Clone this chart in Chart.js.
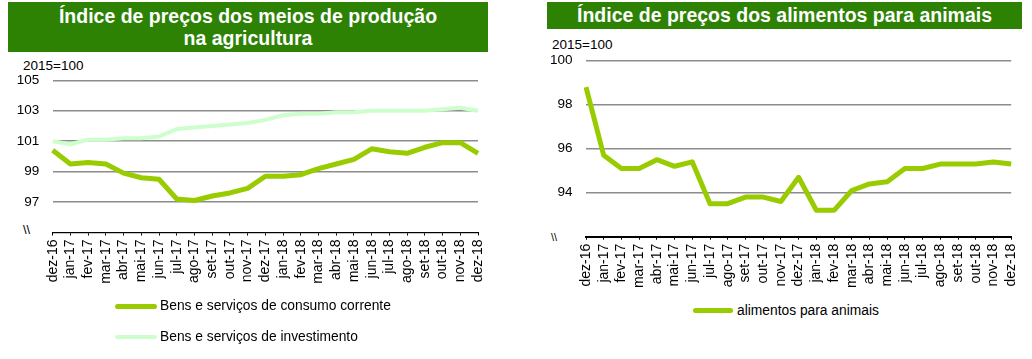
<!DOCTYPE html>
<html><head><meta charset="utf-8">
<script src="https://cdn.jsdelivr.net/npm/chart.js@4/dist/chart.umd.min.js"></script>
<style>
body{margin:0;width:1032px;height:359px;background:#fff;position:relative;overflow:hidden;font-family:"Liberation Sans",Arial,sans-serif;color:#000;}
.banner{position:absolute;background:#2d8204;color:#fff;font-weight:bold;font-size:19.5px;text-align:center;}
.abs{position:absolute;white-space:nowrap;}
.sw{position:absolute;border-radius:3px;}
.lt{position:absolute;white-space:nowrap;font-size:13.8px;line-height:16px;}
canvas{position:absolute;top:0;}
</style>
</head><body>
<div class="banner" style="left:8px;top:2px;width:480px;height:50px;line-height:22px;padding-top:3px;box-sizing:border-box;">Índice de preços dos meios de produção<br>na agricultura</div>
<div class="banner" style="left:547px;top:2px;width:475px;height:27px;line-height:27px;">Índice de preços dos alimentos para animais</div>

<div class="abs" style="left:23px;top:58px;font-size:13.5px;line-height:16px;">2015=100</div>
<div class="abs" style="left:552px;top:37px;font-size:13.5px;line-height:16px;">2015=100</div>
<div class="abs" style="left:23px;top:222px;font-size:13px;line-height:16px;">\\</div>
<div class="abs" style="left:551px;top:229px;font-size:11px;line-height:16px;">\\</div>

<canvas id="c1" width="500" height="300" style="left:0px"></canvas>
<canvas id="c2" width="512" height="300" style="left:520px"></canvas>

<div class="sw" style="left:115px;top:303.5px;width:42px;height:5px;background:#99cc00"></div>
<div class="lt" style="left:160px;top:298px;">Bens e serviços de consumo corrente</div>
<div class="sw" style="left:115px;top:335px;width:42px;height:4px;background:#ccffcc"></div>
<div class="lt" style="left:160px;top:329px;">Bens e serviços de investimento</div>

<div class="sw" style="left:693px;top:308px;width:40px;height:5px;background:#99cc00"></div>
<div class="lt" style="left:737px;top:302.5px;">alimentos para animais</div>

<script>
const months = ['dez-16','jan-17','fev-17','mar-17','abr-17','mai-17','jun-17','jul-17','ago-17','set-17','out-17','nov-17','dez-17','jan-18','fev-18','mar-18','abr-18','mai-18','jun-18','jul-18','ago-18','set-18','out-18','nov-18','dez-18'];
const consumoCorrente = [100.4,99.5,99.6,99.5,98.9,98.6,98.5,97.2,97.1,97.4,97.6,97.9,98.7,98.7,98.8,99.2,99.5,99.8,100.5,100.3,100.2,100.6,100.9,100.9,100.2];
const investimento = [101.0,100.8,101.1,101.1,101.2,101.2,101.3,101.8,101.9,102.0,102.1,102.2,102.4,102.7,102.8,102.8,102.9,102.9,103.0,103.0,103.0,103.0,103.1,103.2,103.0];
const alimentos = [98.8,95.7,95.1,95.1,95.5,95.2,95.4,93.5,93.5,93.8,93.8,93.6,94.7,93.2,93.2,94.1,94.4,94.5,95.1,95.1,95.3,95.3,95.3,95.4,95.3];
const leftTicks = {min:95, max:105, step:2};
const rightTicks = {min:92, max:100, step:2};

const FONT = '"Liberation Sans", Arial, sans-serif';

function makeChart(id, datasets, yt, geo){
  new Chart(document.getElementById(id), {
    type:'line',
    data:{labels:months, datasets:datasets},
    options:{
      responsive:false, animation:false, devicePixelRatio:1,
      layout:{padding:{left:0, right:geo.padRight, top:geo.top, bottom:0}},
      plugins:{legend:{display:false}, tooltip:{enabled:false}},
      elements:{point:{radius:0}, line:{tension:0, borderJoinStyle:'round', borderCapStyle:'butt'}},
      scales:{
        x:{
          type:'category', offset:false,
          afterFit:(s)=>{s.height = geo.xHeight;},
          grid:{drawOnChartArea:false, drawTicks:true, tickLength:3, color:'#000', lineWidth:1},
          border:{display:true, color:'#000', width:geo.axisWidth},
          ticks:{autoSkip:false, minRotation:90, maxRotation:90, padding:4, color:'#000', font:{family:FONT, size:14}}
        },
        y:{
          min:yt.min, max:yt.max,
          afterFit:(s)=>{s.width = geo.yWidth;},
          border:{display:false},
          grid:{color:'#8c8c8c', lineWidth:1.5, drawTicks:false},
          ticks:{stepSize:yt.step, padding:13.5, color:'#000', font:{family:FONT, size:13.5},
            callback:(v)=> v===yt.min ? '' : String(v)}
        }
      }
    }
  });
}

makeChart('c1', [
  {label:'Bens e serviços de investimento', data:investimento, borderColor:'#ccffcc', borderWidth:4},
  {label:'Bens e serviços de consumo corrente', data:consumoCorrente, borderColor:'#99cc00', borderWidth:5}
], leftTicks, {padRight:22, top:80.3, xHeight:67.5, yWidth:52.7, axisWidth:1});

makeChart('c2', [
  {label:'alimentos para animais', data:alimentos, borderColor:'#99cc00', borderWidth:5}
], rightTicks, {padRight:20.3, top:60.7, xHeight:63.3, yWidth:66, axisWidth:2});
</script>
</body></html>
